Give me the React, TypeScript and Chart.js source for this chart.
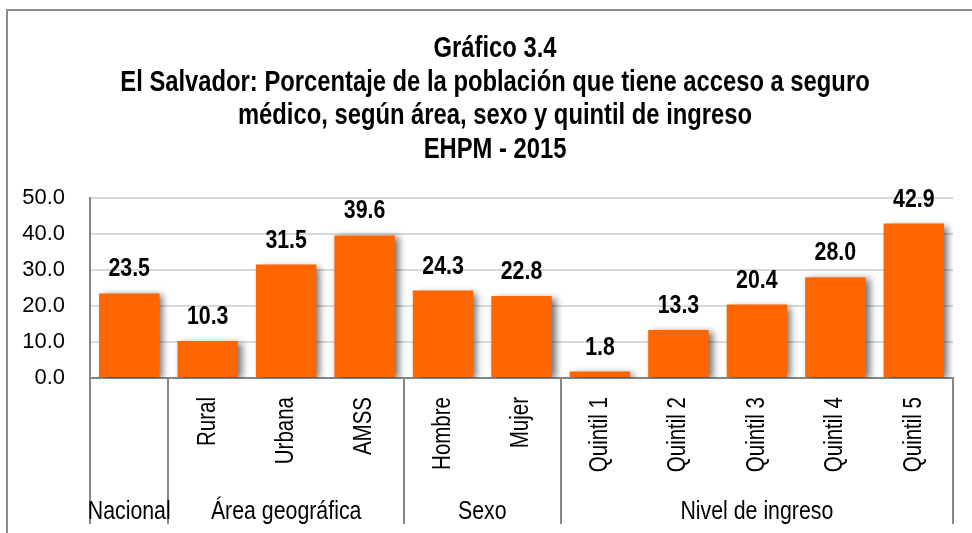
import { useEffect, useRef } from "react";
import { Chart, registerables } from "chart.js";
Chart.register(...registerables);

const titleLines = [
  "Gráfico 3.4",
  "El Salvador: Porcentaje de la población que tiene acceso a seguro",
  "médico, según área, sexo y quintil de ingreso",
  "EHPM - 2015",
];
const subLabels = ["", "Rural", "Urbana", "AMSS", "Hombre", "Mujer", "Quintil 1", "Quintil 2", "Quintil 3", "Quintil 4", "Quintil 5"];
const values = [23.5, 10.3, 31.5, 39.6, 24.3, 22.8, 1.8, 13.3, 20.4, 28.0, 42.9];
const groupLabels = ["Nacional", "Área geográfica", "Sexo", "Nivel de ingreso"];
const groupSizes = [1, 3, 2, 5];
const yTickValues = [0, 10, 20, 30, 40, 50];

function hasFont(name: string) {
  const c = document.createElement("canvas").getContext("2d")!;
  c.font = "40px monospace";
  const a = c.measureText("Nacional Wwi 12").width;
  c.font = `40px '${name}', monospace`;
  const b = c.measureText("Nacional Wwi 12").width;
  return a !== b;
}

export default function App() {
  const ref = useRef<HTMLCanvasElement>(null);
  useEffect(() => {
    document.body.style.margin = "0";
    const narrow = hasFont("Liberation Sans Narrow");
    const fam = narrow ? "'Liberation Sans Narrow', 'Liberation Sans', Arial, sans-serif" : "'Liberation Sans', Arial, sans-serif";
    const sx = narrow ? 1 : 0.82;

    const txt = (ctx: CanvasRenderingContext2D, t: string, x: number, y: number, size: number, bold: boolean, align: CanvasTextAlign, rot = 0, base: CanvasTextBaseline = "alphabetic") => {
      ctx.save();
      ctx.translate(x, y);
      if (rot) ctx.rotate(rot);
      ctx.scale(sx, 1);
      ctx.font = `${bold ? "bold " : ""}${size}px ${fam}`;
      ctx.fillStyle = "#000";
      ctx.textAlign = align;
      ctx.textBaseline = base;
      ctx.fillText(t, 0, 0);
      ctx.restore();
    };

    const deco = {
      id: "deco",
      beforeDraw(chart: any) {
        const ctx = chart.ctx;
        ctx.save();
        ctx.fillStyle = "#fff";
        ctx.fillRect(0, 0, chart.width, chart.height);
        ctx.strokeStyle = "#8c8c8c";
        ctx.lineWidth = 2;
        ctx.beginPath();
        ctx.moveTo(7, chart.height);
        ctx.lineTo(7, 10);
        ctx.lineTo(chart.width, 10);
        ctx.stroke();
        ctx.restore();
      },
      beforeDatasetsDraw(chart: any) {
        const ctx = chart.ctx;
        ctx.save();
        ctx.shadowColor = "rgba(0,0,0,0.55)";
        ctx.shadowBlur = 7;
        ctx.shadowOffsetX = 4;
        ctx.shadowOffsetY = 2;
      },
      afterDatasetsDraw(chart: any) {
        const ctx = chart.ctx;
        ctx.restore();
        const meta = chart.getDatasetMeta(0);
        meta.data.forEach((bar: any, i: number) => {
          txt(ctx, values[i].toFixed(1), bar.x, bar.y - 17, 26, true, "center");
        });
      },
      afterDraw(chart: any) {
        const ctx = chart.ctx;
        const xs = chart.scales.x;
        const area = chart.chartArea;
        const n = subLabels.length;
        const w = (xs.right - xs.left) / n;
        const cx = 495;
        const baselines = [57, 90.5, 124, 157.5];
        titleLines.forEach((t, i) => txt(ctx, t, cx, baselines[i], 29, true, "center"));
        subLabels.forEach((s, i) => {
          if (!s) return;
          const x = xs.getPixelForValue(i);
          txt(ctx, s, x, area.bottom + 19, 25, false, "right", -Math.PI / 2, "middle");
        });
        ctx.save();
        ctx.strokeStyle = "#868686";
        ctx.lineWidth = 2;
        let start = 0;
        const bounds = [0];
        groupSizes.forEach((g) => { start += g; bounds.push(start); });
        bounds.forEach((b) => {
          const x = Math.round(xs.left + b * w);
          ctx.beginPath();
          ctx.moveTo(x, area.bottom);
          ctx.lineTo(x, 524);
          ctx.stroke();
        });
        ctx.restore();
        groupLabels.forEach((g, k) => {
          const x0 = xs.left + bounds[k] * w;
          const x1 = xs.left + bounds[k + 1] * w;
          txt(ctx, g, (x0 + x1) / 2, 519, 26, false, "center");
        });
      },
    };

    const chart = new Chart(ref.current!, {
      type: "bar",
      data: {
        labels: subLabels,
        datasets: [
          {
            data: values,
            backgroundColor: "#FF6600",
            borderWidth: 0,
            categoryPercentage: 1,
            barPercentage: 0.77,
          },
        ],
      },
      options: {
        responsive: false,
        animation: false,
        events: [],
        layout: { padding: { top: 198, bottom: 155, left: 0, right: 19 } },
        plugins: { legend: { display: false }, title: { display: false }, tooltip: { enabled: false } },
        scales: {
          x: {
            grid: { display: false },
            ticks: { display: false },
            border: { display: true, color: "#868686", width: 2 },
            afterFit: (s: any) => { s.height = 0; },
          },
          y: {
            min: 0,
            max: 50,
            afterBuildTicks: (s: any) => { s.ticks = yTickValues.map((v) => ({ value: v })); },
            ticks: {
              callback: (v: any) => Number(v).toFixed(1),
              padding: 25,
              color: "#000",
              font: { family: narrow ? fam : "'Liberation Sans', Arial, sans-serif", size: narrow ? 25 : 22 },
            },
            grid: { color: "#d9d9d9", lineWidth: 2, drawTicks: false },
            border: { display: true, color: "#868686", width: 2 },
            afterFit: (s: any) => { s.width = 90; },
          },
        },
      },
      plugins: [deco],
    });
    return () => chart.destroy();
  }, []);
  return <canvas ref={ref} width={972} height={533} style={{ display: "block" }} />;
}
